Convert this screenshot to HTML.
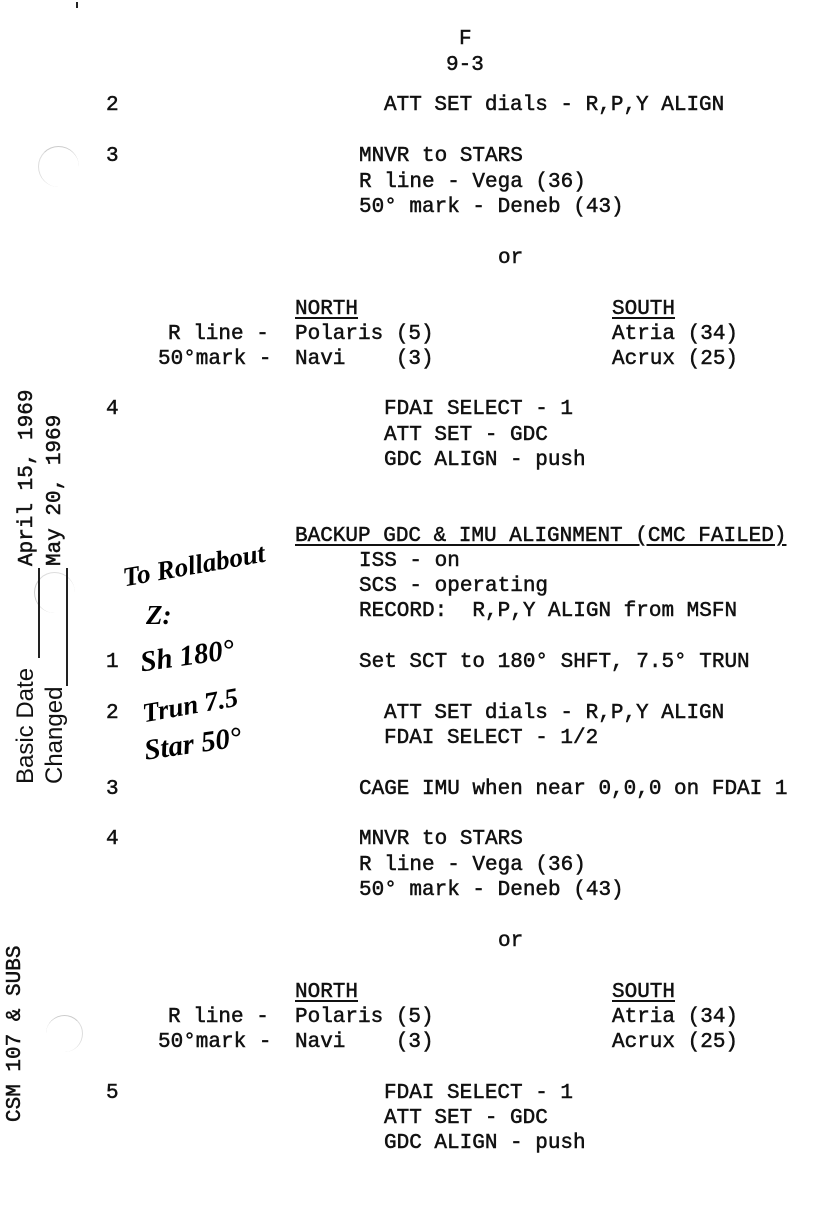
<!DOCTYPE html>
<html><head><meta charset="utf-8"><style>
body{margin:0;width:840px;height:1217px;background:#fff;position:relative;overflow:hidden;color:#111}
.t{position:absolute;font-family:"Liberation Mono",monospace;font-size:21px;line-height:24px;white-space:pre;-webkit-text-stroke:0.5px #111}
.u{text-decoration:underline;text-underline-offset:3px}
.r{position:absolute;transform-origin:left top;transform:rotate(-90deg);white-space:pre;line-height:24px}
.s{font-family:"Liberation Sans",sans-serif;font-size:24px}
.m{font-family:"Liberation Mono",monospace;font-size:21px;-webkit-text-stroke:0.5px #111}
.h{position:absolute;font-family:"Liberation Serif",serif;font-style:italic;font-weight:bold;font-size:27px;white-space:pre;color:#000}
</style></head><body>
<div style="position:absolute;left:76px;top:2px;width:2px;height:6px;background:#222"></div>
<div style="position:absolute;left:38px;top:146px;width:40px;height:40px;border-radius:50%;border-top:1px solid #ccc;border-left:1px solid #ddd"></div>
<div style="position:absolute;left:34px;top:572px;width:40px;height:40px;border-radius:50%;border-left:1px solid #ccc;border-top:1px solid #ddd"></div>
<div style="position:absolute;left:46px;top:1015px;width:36px;height:36px;border-radius:50%;border-top:1px solid #ccc;border-right:1px solid #ddd"></div>

<div class="t" style="left:459px;top:28px">F</div>
<div class="t" style="left:446px;top:54px">9-3</div>

<div class="t" style="left:106px;top:94px">2</div>
<div class="t" style="left:384px;top:94px">ATT SET dials - R,P,Y ALIGN</div>
<div class="t" style="left:106px;top:145px">3</div>
<div class="t" style="left:359px;top:145px">MNVR to STARS</div>
<div class="t" style="left:359px;top:171px">R line - Vega (36)</div>
<div class="t" style="left:359px;top:196px">50° mark - Deneb (43)</div>
<div class="t" style="left:498px;top:247px">or</div>
<div class="t u" style="left:295px;top:298px">NORTH</div>
<div class="t u" style="left:612px;top:298px">SOUTH</div>
<div class="t" style="left:168px;top:323px">R line -</div>
<div class="t" style="left:295px;top:323px">Polaris (5)</div>
<div class="t" style="left:612px;top:323px">Atria (34)</div>
<div class="t" style="left:158px;top:348px">50°mark -</div>
<div class="t" style="left:295px;top:348px">Navi    (3)</div>
<div class="t" style="left:612px;top:348px">Acrux (25)</div>
<div class="t" style="left:106px;top:398px">4</div>
<div class="t" style="left:384px;top:398px">FDAI SELECT - 1</div>
<div class="t" style="left:384px;top:424px">ATT SET - GDC</div>
<div class="t" style="left:384px;top:449px">GDC ALIGN - push</div>

<div class="t u" style="left:295px;top:525px">BACKUP GDC &amp; IMU ALIGNMENT (CMC FAILED)</div>
<div class="t" style="left:359px;top:550px">ISS - on</div>
<div class="t" style="left:359px;top:575px">SCS - operating</div>
<div class="t" style="left:359px;top:600px">RECORD:  R,P,Y ALIGN from MSFN</div>
<div class="t" style="left:106px;top:651px">1</div>
<div class="t" style="left:359px;top:651px">Set SCT to 180° SHFT, 7.5° TRUN</div>
<div class="t" style="left:106px;top:702px">2</div>
<div class="t" style="left:384px;top:702px">ATT SET dials - R,P,Y ALIGN</div>
<div class="t" style="left:384px;top:727px">FDAI SELECT - 1/2</div>
<div class="t" style="left:106px;top:778px">3</div>
<div class="t" style="left:359px;top:778px">CAGE IMU when near 0,0,0 on FDAI 1</div>
<div class="t" style="left:106px;top:828px">4</div>
<div class="t" style="left:359px;top:828px">MNVR to STARS</div>
<div class="t" style="left:359px;top:854px">R line - Vega (36)</div>
<div class="t" style="left:359px;top:879px">50° mark - Deneb (43)</div>
<div class="t" style="left:498px;top:930px">or</div>
<div class="t u" style="left:295px;top:981px">NORTH</div>
<div class="t u" style="left:612px;top:981px">SOUTH</div>
<div class="t" style="left:168px;top:1006px">R line -</div>
<div class="t" style="left:295px;top:1006px">Polaris (5)</div>
<div class="t" style="left:612px;top:1006px">Atria (34)</div>
<div class="t" style="left:158px;top:1031px">50°mark -</div>
<div class="t" style="left:295px;top:1031px">Navi    (3)</div>
<div class="t" style="left:612px;top:1031px">Acrux (25)</div>
<div class="t" style="left:106px;top:1082px">5</div>
<div class="t" style="left:384px;top:1082px">FDAI SELECT - 1</div>
<div class="t" style="left:384px;top:1107px">ATT SET - GDC</div>
<div class="t" style="left:384px;top:1132px">GDC ALIGN - push</div>

<div class="r s" style="left:14px;top:784px">Basic Date</div>
<div style="position:absolute;left:38px;top:568px;width:2px;height:90px;background:#222"></div>
<div class="r m" style="left:16px;top:566px">April 15, 1969</div>
<div class="r s" style="left:43px;top:784px">Changed</div>
<div style="position:absolute;left:66px;top:568px;width:2px;height:118px;background:#222"></div>
<div class="r m" style="left:44px;top:566px">May 20, 1969</div>
<div class="r m" style="left:4px;top:1122px">CSM 107 &amp; SUBS</div>

<div class="h" style="left:122px;top:550px;transform:rotate(-10deg)">To Rollabout</div>
<div class="h" style="left:146px;top:600px">Z:</div>
<div class="h" style="left:140px;top:640px;font-size:29px;transform:rotate(-8deg)">Sh 180°</div>
<div class="h" style="left:142px;top:690px;transform:rotate(-10deg)">Trun 7.5</div>
<div class="h" style="left:144px;top:728px;font-size:29px;transform:rotate(-8deg)">Star 50°</div>
</body></html>
